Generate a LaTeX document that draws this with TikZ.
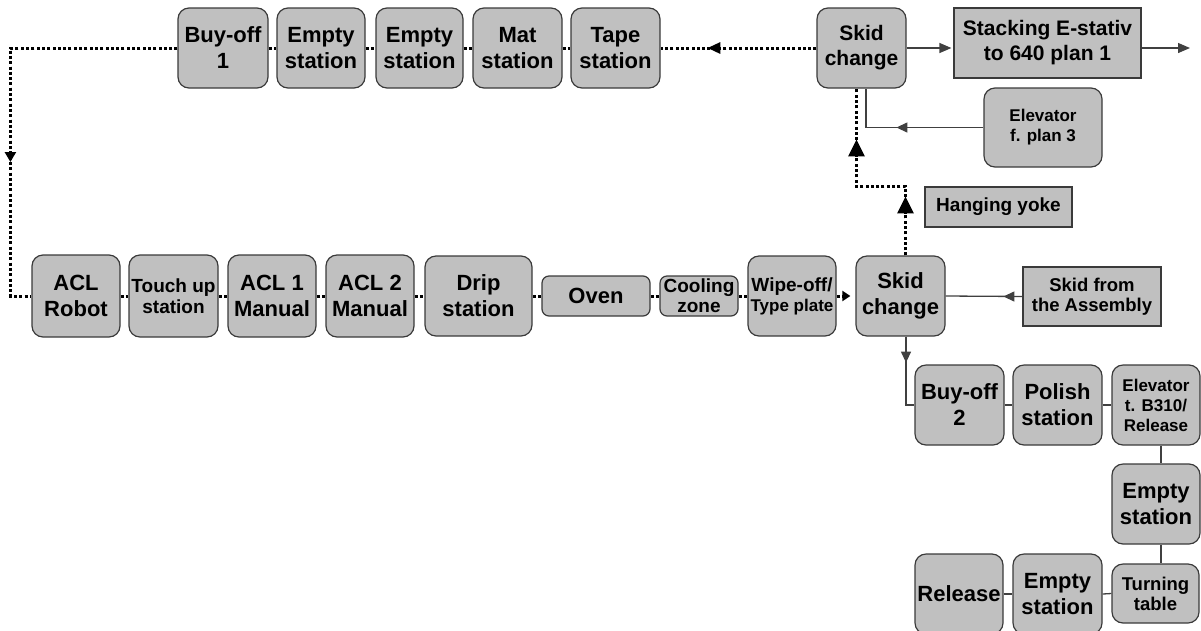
\documentclass[tikz,border=0pt]{standalone}
\usepackage{fontspec}
\setmainfont{Liberation Sans}
\usetikzlibrary{arrows.meta}
\definecolor{boxfill}{HTML}{C0C0C0}
\definecolor{boxline}{HTML}{3A3A3A}
\definecolor{wirecol}{HTML}{404040}
\begin{document}
\begin{tikzpicture}[x=1pt,y=-1pt,
  station/.style={draw=boxline, fill=boxfill, line width=1.2pt, rounded corners=11pt,
    align=center, inner sep=0pt, text=black},
  plainbox/.style={station, rounded corners=0pt},
  txtL/.style={font=\fontsize{22}{26}\selectfont\bfseries},
  txtK/.style={font=\fontsize{21}{25}\selectfont\bfseries},
  txtM/.style={font=\fontsize{19}{21}\selectfont\bfseries},
  txtR/.style={font=\fontsize{18.5}{20}\selectfont\bfseries},
  txtS/.style={font=\fontsize{17}{20}\selectfont\bfseries},
  dotline/.style={draw=black, line width=3pt, dash pattern=on 3pt off 2.3pt},
  wire/.style={draw=wirecol, line width=1.3pt},
  bigtip/.tip={Triangle[length=17pt,width=16pt]},
  midtip/.tip={Triangle[length=13pt,width=11pt]},
  sidetip/.tip={Triangle[length=10pt,width=11pt]},
  smalltip/.tip={Triangle[length=11pt,width=10pt]}]
\useasboundingbox (0,0) rectangle (1201,630);

% upper line
\node[station, txtL, minimum width=90pt, minimum height=80pt] (buy1)  at (223,48)   {Buy-off\\1};
\node[station, txtL, minimum width=88pt, minimum height=80pt] (emp1)  at (321,48)   {Empty\\station};
\node[station, txtL, minimum width=87pt, minimum height=80pt] (emp2)  at (419.5,48) {Empty\\station};
\node[station, txtL, minimum width=89pt, minimum height=80pt] (mat)   at (517.5,48) {Mat\\station};
\node[station, txtL, minimum width=89pt, minimum height=80pt] (tape)  at (615.5,48) {Tape\\station};
\node[station, txtK, minimum width=89pt, minimum height=80pt] (skidT) at (861.5,48) {Skid\\change};
\node[plainbox, txtK, minimum width=187pt, minimum height=70pt] (stack) at (1047.5,43) {Stacking E-stativ\\to 640 plan 1};
\node[station, txtS, minimum width=118pt, minimum height=79pt] (elevF) at (1043,127.5) {Elevator\\f. plan 3};
\node[plainbox, txtM, minimum width=147pt, minimum height=40pt] (yoke) at (998.5,207) {Hanging yoke};

% lower line
\node[station, txtL, minimum width=88pt, minimum height=82pt] (acl)   at (76,296)    {ACL\\Robot};
\node[station, txtM, minimum width=89pt, minimum height=82pt] (touch) at (173.5,296) {Touch up\\station};
\node[station, txtL, minimum width=88pt, minimum height=82pt] (acl1)  at (272,296)   {ACL 1\\Manual};
\node[station, txtL, minimum width=88pt, minimum height=82pt] (acl2)  at (370,296)   {ACL 2\\Manual};
\node[station, txtL, minimum width=107pt, minimum height=80pt] (drip) at (478.5,296) {Drip\\station};
\node[station, txtL, minimum width=108pt, minimum height=40pt, rounded corners=7pt] (oven) at (596,296) {Oven};
\node[station, font=\fontsize{19}{20}\selectfont\bfseries, minimum width=78pt, minimum height=40pt, rounded corners=7pt] (cool) at (699,296) {Cooling\\zone};
\node[station, font=\fontsize{19}{20}\selectfont\bfseries, minimum width=88pt, minimum height=80pt] (wipe) at (792,296) {Wipe-off/\\{\fontsize{17}{20}\selectfont Type plate}};
\node[station, txtL, minimum width=89pt, minimum height=80pt] (skidL) at (900.5,296) {Skid\\change};
\node[plainbox, txtR, minimum width=138pt, minimum height=59pt] (assy) at (1092,296.5) {Skid from\\the Assembly};

% exit branch
\node[station, txtL, minimum width=89pt, minimum height=80pt] (buy2)   at (959.5,405)  {Buy-off\\2};
\node[station, txtL, minimum width=89pt, minimum height=80pt] (polish) at (1057.5,405) {Polish\\station};
\node[station, txtS, minimum width=88pt, minimum height=80pt] (elevB)  at (1156,405)   {Elevator\\t. B310/\\Release};
\node[station, txtL, minimum width=88pt, minimum height=80pt] (empR)   at (1156,504)   {Empty\\station};
\node[station, txtR, minimum width=87pt, minimum height=59pt] (turn)   at (1155.5,593.5) {Turning\\table};
\node[station, txtL, minimum width=89pt, minimum height=80pt] (empB)   at (1057.5,594) {Empty\\station};
\node[station, txtL, minimum width=88pt, minimum height=80pt] (rel)    at (959,594)    {Release};

\coordinate (out) at (1190,48);

% dotted conveyor links
\foreach \a/\b in {buy1/emp1, emp1/emp2, emp2/mat, mat/tape,
                   acl/touch, touch/acl1, acl1/acl2, acl2/drip, drip/oven, oven/cool, cool/wipe}
  \draw[dotline] (\a.east) -- (\b.west);
\draw[dotline] (skidT.west) -- (tape.east);
\draw[dotline, -{midtip}] (skidT.west) -- ([xshift=-109pt]skidT.west);
\draw[dotline] (buy1.west) -- ++(-167,0) |- (acl.west);
\draw[dotline, -{sidetip}] (buy1.west) -- ++(-167,0) -- ++(0,114);
\draw[dotline, -{Triangle[length=8pt,width=10pt]}, shorten >=5pt] (wipe.east) -- (skidL.west);
\draw[dotline] ([xshift=5pt]skidL.north) -- ++(0,-69) -| ([xshift=-5pt]skidT.south);
\draw[dotline, -{bigtip}] ([xshift=5pt]skidL.north) -- ++(0,-59);
\draw[dotline, -{bigtip}] ([xshift=5pt]skidL.north) -- ++(0,-69) -- ++(-49,0) -- ++(0,-47);

% solid links
\draw[wire, -{Triangle[length=12pt,width=10pt]}, shorten >=2pt] (skidT.east) -- (skidT.east -| stack.west);
\draw[wire, -{Triangle[length=12pt,width=10pt]}] (stack.east |- skidT.east) -- (out);
\draw[wire] (elevF.west) -| ([xshift=4.5pt]skidT.south);
\draw[wire, -{smalltip}] (elevF.west) -- ++(-87,0);
\draw[wire] (assy.west) -- (skidL.east);
\draw[wire, -{smalltip}] (assy.west) -- ++(-19,0);
\draw[wire] ([xshift=5.5pt]skidL.south) |- (buy2.west);
\draw[wire, -{smalltip}] ([xshift=5.5pt]skidL.south) -- ++(0,26);
\draw[wire] (buy2.east) -- (polish.west);
\draw[wire] (polish.east) -- (elevB.west);
\draw[wire] ([xshift=5pt]elevB.south) -- ([xshift=5pt]empR.north);
\draw[wire] ([xshift=5pt]empR.south) -- ([xshift=5.5pt]turn.north);
\draw[wire] (rel.east) -- (empB.west);
\draw[wire] (empB.east) -- (turn.west);
\end{tikzpicture}
\end{document}
